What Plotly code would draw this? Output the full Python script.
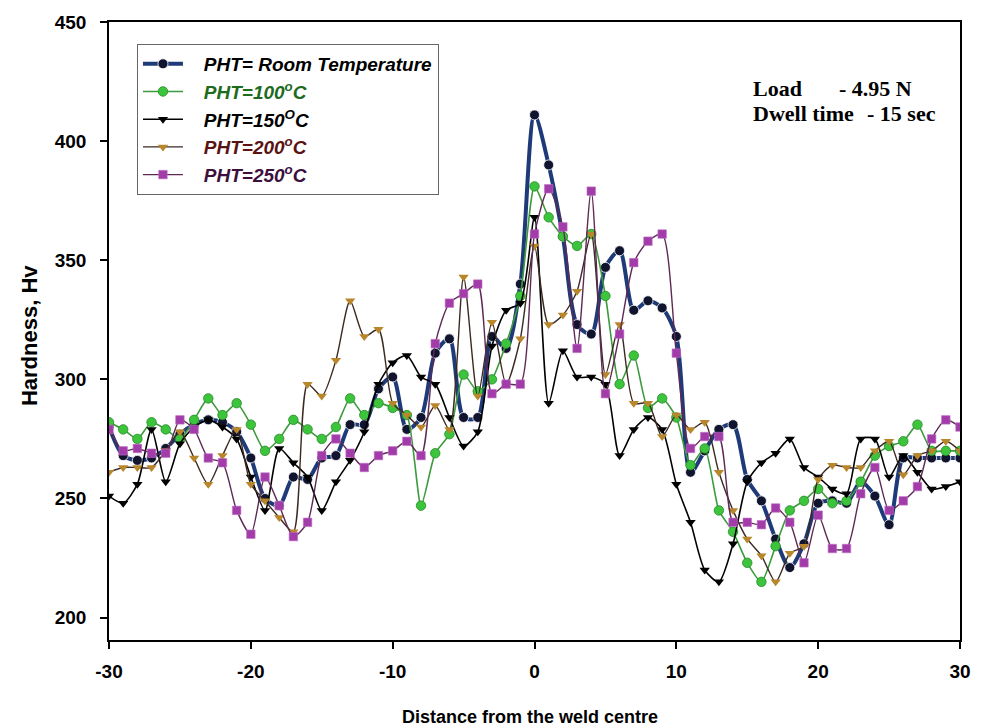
import plotly.graph_objects as go

distance = list(range(-30, 31))

hv_room = [280, 268, 266, 267, 271, 277, 281, 283, 282, 278, 267, 250, 247,
           259, 258, 267, 268, 281, 281, 296, 301, 279, 284, 311, 317, 284,
           284, 318, 313, 340, 411, 390, 360, 323, 319, 347, 354, 329, 333,
           330, 318, 261, 270, 279, 281, 258, 249, 233, 221, 231, 248, 249,
           248, 257, 251, 239, 267, 267, 267, 267, 267]

hv_100 = [282, 279, 275, 282, 279, 275, 283, 292, 285, 290, 281, 270, 275,
          283, 279, 275, 280, 292, 285, 290, 288, 285, 247, 269, 277, 302,
          295, 300, 315, 335, 381, 368, 360, 356, 361, 335, 298, 310, 288,
          292, 284, 264, 271, 245, 236, 223, 215, 230, 245, 249, 254, 248,
          249, 257, 268, 272, 274, 281, 270, 270, 270]

hv_150 = [251, 248, 256, 279, 257, 273, 280, 283, 280, 275, 259, 245, 271,
          265, 259, 245, 257, 266, 278, 298, 307, 310, 301, 298, 284, 272,
          278, 314, 329, 332, 368, 290, 312, 301, 301, 298, 268, 279, 284,
          279, 256, 240, 220, 215, 231, 257, 265, 269, 275, 263, 259, 254,
          252, 275, 275, 259, 268, 261, 254, 255, 257]

hv_200 = [261, 263, 263, 263, 270, 278, 267, 256, 268, 279, 256, 249, 242,
          236, 298, 293, 308, 333, 318, 321, 290, 285, 280, 289, 279, 343,
          293, 324, 298, 317, 356, 323, 327, 337, 361, 302, 323, 290, 290,
          276, 285, 279, 282, 261, 245, 233, 226, 215, 227, 230, 258, 264,
          263, 263, 270, 274, 260, 268, 270, 274, 270]

hv_250 = [279, 270, 271, 269, 269, 283, 279, 267, 265, 245, 235, 259, 247,
          234, 240, 268, 275, 269, 263, 268, 270, 274, 268, 315, 332, 336,
          340, 294, 298, 298, 361, 380, 364, 313, 379, 294, 319, 349, 358,
          361, 311, 271, 276, 276, 240, 240, 239, 246, 240, 223, 243, 229,
          229, 252, 263, 245, 249, 255, 275, 283, 280]

x_ticks = [-30, -20, -10, 0, 10, 20, 30]
x_tick_text = ["-30", "-20", "-10", "0", "10", "20", "30"]
y_ticks = [200, 250, 300, 350, 400, 450]

pad = "\u00a0\u00a0\u00a0"
series_names = [
    pad + "<b><i>PHT= Room Temperature</i></b>",
    pad + "<b><i><span style='color:#1d6b1d'>PHT=100<sup>o</sup>C</span></i></b>",
    pad + "<b><i>PHT=150<sup>O</sup>C</i></b>",
    pad + "<b><i><span style='color:#5a1212'>PHT=200<sup>o</sup>C</span></i></b>",
    pad + "<b><i><span style='color:#3d0f3d'>PHT=250<sup>o</sup>C</span></i></b>",
]

fig = go.Figure()

fig.add_trace(go.Scatter(
    x=distance, y=hv_room, name=series_names[0], mode="lines+markers",
    line=dict(color="#1f3a78", width=4, shape="spline", smoothing=0.8),
    marker=dict(symbol="circle", size=10, color="#10142e",
                line=dict(color="#ffffff", width=0.8))))
fig.add_trace(go.Scatter(
    x=distance, y=hv_100, name=series_names[1], mode="lines+markers",
    line=dict(color="#3d9a3d", width=1.6, shape="spline", smoothing=0.6),
    marker=dict(symbol="circle", size=9.5, color="#3cc43c",
                line=dict(color="#2a8a2a", width=0.8))))
fig.add_trace(go.Scatter(
    x=distance, y=hv_150, name=series_names[2], mode="lines+markers",
    line=dict(color="#000000", width=1.6, shape="spline", smoothing=0.7),
    marker=dict(symbol="triangle-down", size=9, color="#000000")))
fig.add_trace(go.Scatter(
    x=distance, y=hv_200, name=series_names[3], mode="lines+markers",
    line=dict(color="#3b2a22", width=1.4, shape="spline", smoothing=0.7),
    marker=dict(symbol="triangle-down", size=9, color="#b8862b")))
fig.add_trace(go.Scatter(
    x=distance, y=hv_250, name=series_names[4], mode="lines+markers",
    line=dict(color="#5e2a55", width=1.4, shape="spline", smoothing=0.7),
    marker=dict(symbol="square", size=8.5, color="#a23ca8",
                line=dict(color="#c070c8", width=0.6))))

L, R, T, B = 109, 22, 20, 88
W, H = 983, 728
pw, ph = W - L - R, H - T - B

def px(xp):
    return (xp - L) / pw

def py(yp):
    return (H - B - yp) / ph

axis_common = dict(
    showline=True, linecolor="black", linewidth=1.6, mirror=True,
    ticks="outside", ticklen=7, tickwidth=1.5, tickcolor="black",
    showgrid=False, zeroline=False,
    tickfont=dict(family="Arial, Liberation Sans", size=19, color="black",
                  weight="bold"),
)

fig.update_xaxes(range=[-30, 30], tickvals=x_ticks, ticktext=x_tick_text,
                 ticklabelstandoff=6, **axis_common)
fig.update_yaxes(range=[190.6, 450], tickvals=y_ticks,
                 ticklabelstandoff=10, **axis_common)

annotations = [
    dict(text="<b>Hardness, Hv</b>", x=px(30), y=py(335), textangle=-90,
         font=dict(family="Arial, Liberation Sans", size=22, color="black")),
    dict(text="<b>Distance from the weld centre</b>", x=px(530), y=py(717),
         font=dict(family="Arial, Liberation Sans", size=18, color="black")),
    dict(text="<b>Load</b>", x=px(752), y=py(87), xanchor="left",
         font=dict(family="Times New Roman, Liberation Serif", size=22, color="black")),
    dict(text="<b>- 4.95 N</b>", x=px(838), y=py(87), xanchor="left",
         font=dict(family="Times New Roman, Liberation Serif", size=22, color="black")),
    dict(text="<b>Dwell time</b>", x=px(752), y=py(112), xanchor="left",
         font=dict(family="Times New Roman, Liberation Serif", size=22, color="black")),
    dict(text="<b>- 15 sec</b>", x=px(866), y=py(112), xanchor="left",
         font=dict(family="Times New Roman, Liberation Serif", size=22, color="black")),
]
for a in annotations:
    a.setdefault("xanchor", "center")
    a.update(xref="paper", yref="paper", yanchor="middle", showarrow=False)

fig.update_layout(
    width=W, height=H,
    margin=dict(l=L, r=R, t=T, b=B),
    paper_bgcolor="white", plot_bgcolor="white",
    showlegend=True,
    legend=dict(
        x=px(137), y=py(42), xanchor="left", yanchor="top",
        bgcolor="white", bordercolor="#666666", borderwidth=1,
        font=dict(family="Arial, Liberation Sans", size=19, color="black"),
        tracegroupgap=2, itemwidth=40,
    ),
    annotations=annotations,
)

fig.write_html("out.html")
